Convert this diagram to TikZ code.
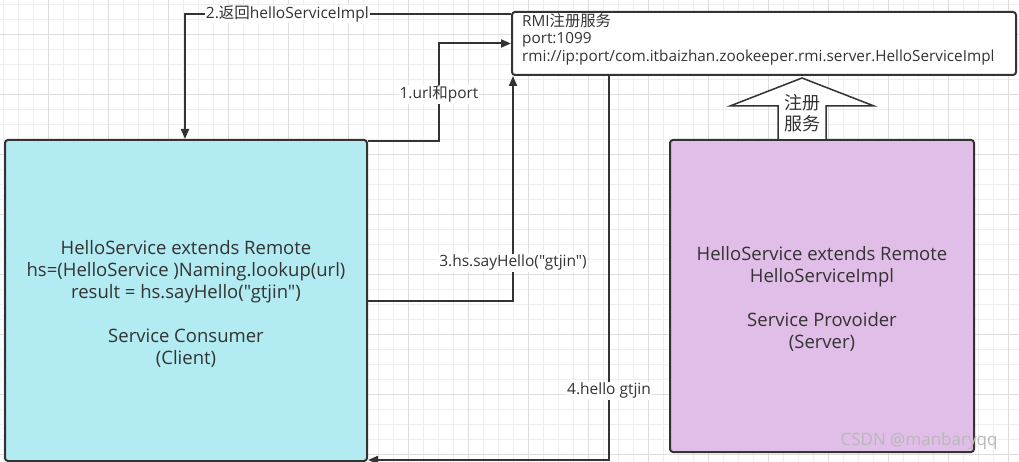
\documentclass[tikz,border=0pt]{standalone}
\usepackage{fontspec}
\setmainfont{Open Sans}[Ligatures=TeXOff]
\newfontfamily\cjk{Noto Sans CJK SC}
\usetikzlibrary{arrows.meta,calc}
\definecolor{ink}{HTML}{333333}
\definecolor{consfill}{HTML}{B2EBF2}
\definecolor{provfill}{HTML}{E1BEE7}
\definecolor{gridlight}{HTML}{EEEEEE}
\definecolor{griddark}{HTML}{DEDEDE}
\definecolor{wmark}{HTML}{B8B8B8}
\tikzset{
  box/.style={draw=ink, line width=2pt, rounded corners=3pt, inner sep=0pt},
  boxtext/.style={inner sep=0pt, text=ink, align=center, font=\fontsize{18.5}{22}\selectfont},
  conn/.style={draw=ink, line width=2pt, -{Triangle[length=10pt,width=8pt]}},
  lbl/.style={fill=white, inner xsep=1pt, inner ysep=1pt, text=ink, font=\fontsize{15.5}{17}\selectfont},
}
\begin{document}
\begin{tikzpicture}[x=1pt,y=-1pt]
\useasboundingbox (0,0) rectangle (1019,462);
\fill[white] (0,0) rectangle (1019,462);
% grid
\foreach \k in {0,...,67} \draw[gridlight, line width=0.8pt] ({3.3+15*\k},0) -- ++(0,462);
\foreach \k in {0,...,30} \draw[gridlight, line width=0.8pt] (0,{4+15*\k}) -- ++(1019,0);
\foreach \k in {0,...,16} \draw[griddark, line width=0.9pt] ({48.3+60*\k},0) -- ++(0,462);
\foreach \k in {0,...,7} \draw[griddark, line width=0.9pt] (0,{34+60*\k}) -- ++(1019,0);

% nodes
\node[box, fill=consfill, minimum width=362pt, minimum height=321pt] (cons) at (186,300.5) {};
\node[boxtext] (constext) at ($(cons.center)+(0,3)$)
  {HelloService extends Remote\\hs=(HelloService )Naming.lookup(url)\\result = hs.sayHello("gtjin")\\[22pt]Service Consumer\\(Client)};
\node[box, fill=provfill, minimum width=304pt, minimum height=312pt] (prov) at (822,296) {};
\node[boxtext] (provtext) at ($(prov.center)+(0,2.5)$)
  {HelloService extends Remote\\HelloServiceImpl\\[22pt]Service Provoider\\(Server)};
\node[box, fill=white, minimum width=504pt, minimum height=63pt] (rmi) at (764,43.5) {};
\node[anchor=north west, inner sep=0pt, text=ink, align=left, font=\fontsize{15.3}{17.5}\selectfont] (rmitext) at ($(rmi.north west)+(11,2)$)
  {RMI{\cjk 注册服务}\\port:1099\\rmi://ip:port/com.itbaizhan.zookeeper.rmi.server.HelloServiceImpl};

% block arrow (register service)
\draw[ink, line width=1.5pt, fill=white, line join=miter]
  (778,140) -- (778,106) -- (730,106) -- (802,78) -- (874,106) -- (826,106) -- (826,140) -- cycle;
\node[text=ink, align=center, inner sep=0pt, font=\cjk\fontsize{18}{21}\selectfont] (regtext) at (802,113) {注册\\服务};

% connectors
\draw[conn] ([yshift=-2pt]cons.north east) -- ++(71,0) |- (rmi.west)
  node[lbl, pos=0.25, yshift=-2pt] {1.url{\cjk 和}port};
\draw[conn] ([yshift=-3pt]rmi.north west) -| ([xshift=181pt]cons.north west)
  node[lbl, pos=0.343] {2.{\cjk 返回}helloServiceImpl};
\draw[conn] (cons.east) -| ([xshift=2pt]rmi.south west)
  node[lbl, pos=0.584] {3.hs.sayHello("gtjin")};
\draw[conn] ([xshift=98pt]rmi.south west) |- ([yshift=2pt]cons.south east)
  node[lbl, pos=0.41] {4.hello gtjin};

% watermark
\node[text=wmark, inner sep=0pt, font=\fontsize{17}{18}\selectfont] (wm) at (919,441) {CSDN @manbaryqq};
\end{tikzpicture}
\end{document}
